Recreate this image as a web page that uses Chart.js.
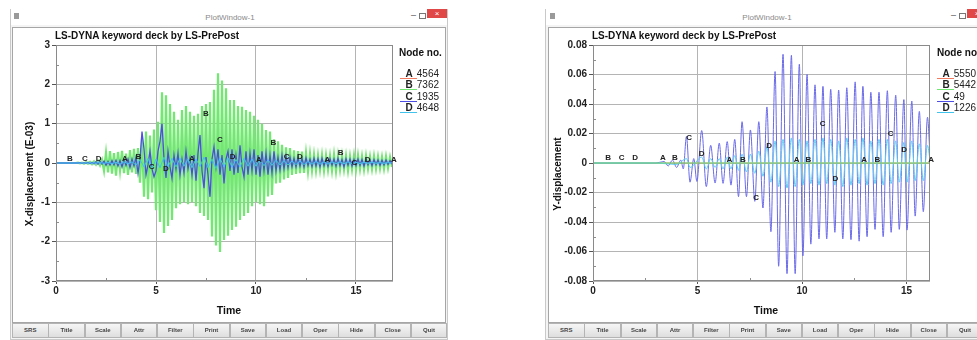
<!DOCTYPE html>
<html><head><meta charset="utf-8">
<script src="https://cdn.jsdelivr.net/npm/chart.js@4.4.1/dist/chart.umd.min.js"></script>
<style>
html,body{margin:0;padding:0;}
body{width:977px;height:340px;overflow:hidden;background:#fff;position:relative;font-family:"Liberation Sans",Arial,sans-serif;}
.win{position:absolute;top:9px;height:331px;border:1px solid #c9c9c9;background:#f4f4f4;box-sizing:border-box;}
.tbar{position:absolute;top:9px;height:16px;background:#fff;}
.wtitle{position:absolute;top:13px;font-size:8px;color:#8a8a8a;text-align:center;width:200px;line-height:9px;}
.icon{position:absolute;top:13px;width:5px;height:6px;background:#9a9a9a;}
.minb{position:absolute;top:11px;font-size:9px;color:#555;line-height:9px;}
.maxb{position:absolute;top:13px;width:5px;height:4px;border:1px solid #777;}
.close{position:absolute;top:9px;width:20px;height:9px;background:#e04848;color:#fff;font-size:8px;line-height:9px;text-align:center;}
.panel{position:absolute;top:27px;width:434px;height:296px;background:#fff;border:1px solid #a6a6a6;box-sizing:border-box;}
canvas{position:absolute;top:27px;}
.ptitle{position:absolute;top:30px;font-size:10px;font-weight:bold;color:#111;line-height:12px;white-space:nowrap;}
.ytitle{position:absolute;width:200px;height:12px;line-height:12px;text-align:center;font-size:10px;font-weight:bold;color:#111;transform:rotate(-90deg);white-space:nowrap;}
.xtitle{position:absolute;top:304px;width:60px;text-align:center;font-size:10.5px;font-weight:bold;color:#111;line-height:12px;}
.node{position:absolute;top:47px;font-size:10px;font-weight:bold;color:#111;line-height:12px;white-space:nowrap;}
.lg{position:absolute;font-size:10px;line-height:11px;color:#222;white-space:nowrap;}
.lg b{display:inline-block;width:10px;text-align:center;}
.lline{position:absolute;height:1px;}
.btn{position:absolute;top:323px;height:15px;box-sizing:border-box;border:1px solid #b4b4b4;background:linear-gradient(#f6f6f6,#dedede);font-size:6px;font-weight:bold;color:#444;text-align:center;line-height:13px;}
</style></head>
<body>
<!-- left window -->
<div class="win" style="left:10px;width:438px;"></div>
<div class="tbar" style="left:11px;width:436px;"></div>
<div class="icon" style="left:14px;"></div>
<div class="wtitle" style="left:130px;">PlotWindow-1</div>
<div class="minb" style="left:411px;">–</div>
<div class="maxb" style="left:419px;"></div>
<div class="close" style="left:427px;">×</div>
<div class="panel" style="left:12px;"></div>
<canvas id="c1" width="434" height="295" style="left:12px;"></canvas>
<div class="ptitle" style="left:55px;">LS-DYNA keyword deck by LS-PrePost</div>
<div class="ytitle" style="left:-70px;top:168px;">X-displacement (E-03)</div>
<div class="xtitle" style="left:199px;">Time</div>
<div class="node" style="left:399px;">Node no.</div>
<div id="lg1"></div>
<div id="bt1"></div>

<!-- right window -->
<div class="win" style="left:545px;width:445px;"></div>
<div class="tbar" style="left:546px;width:443px;"></div>
<div class="icon" style="left:550px;"></div>
<div class="wtitle" style="left:667px;">PlotWindow-1</div>
<div class="minb" style="left:951px;">–</div>
<div class="maxb" style="left:959px;"></div>
<div class="close" style="left:967px;">×</div>
<div class="panel" style="left:548px;"></div>
<canvas id="c2" width="434" height="295" style="left:548px;"></canvas>
<div class="ptitle" style="left:592px;">LS-DYNA keyword deck by LS-PrePost</div>
<div class="ytitle" style="left:458px;top:168px;">Y-displacement</div>
<div class="xtitle" style="left:736px;">Time</div>
<div class="node" style="left:937px;">Node no.</div>
<div id="lg2"></div>
<div id="bt2"></div>

<script>
// ---------------- DATA ----------------
const seriesLetters = ['A','B','C','D'];
const seriesColors = ['#f27a5e','#72e872','#4e4ee4','#40c4ee'];
const leftNodes = ['4564','7362','1935','4648'];
const rightNodes = ['5550','5442','49','1226'];
const buttonNames = ['SRS','Title','Scale','Attr','Filter','Print','Save','Load','Oper','Hide','Close','Quit'];

const xTicks = [0,5,10,15];
const xMinor = [2.5,7.5,12.5];
const leftYTicks = [-3,-2,-1,0,1,2,3];
const leftYMinor = [-2.5,-1.5,-0.5,0.5,1.5,2.5];
const rightYTicks = [-0.08,-0.06,-0.04,-0.02,0,0.02,0.04,0.06,0.08];
const rightYLabels = ['-0.08','-0.06','-0.04','-0.02','0','0.02','0.04','0.06','0.08'];
const rightYMinor = [-0.07,-0.05,-0.03,-0.01,0.01,0.03,0.05,0.07];

// Left plot: X-displacement (E-03), sampled every 0.1 s
const leftStep = 0.1;
const leftB = [
 0,0,0,0,0,0,0,0,0,0,
 0,0.01,-0.01,0.01,-0.02,0.02,-0.02,0.03,-0.03,0.04,
 -0.04,0.05,-0.06,0.08,-0.2,0.26,-0.24,0.3,-0.27,0.25,
 -0.32,0.28,-0.2,0.31,-0.26,0.24,-0.3,0.33,-0.24,0.36,
 -0.28,0.38,-0.5,0.62,-0.86,0.8,-0.92,0.7,-0.75,0.85,
 -1.2,1.05,-1.5,1.8,-1.78,1.72,-1.6,1.5,-1.45,1.3,
 -1.15,1.1,-1.05,1.35,-1.0,1.45,-1.05,1.3,-1.0,1.2,
 -1.1,1.25,-1.27,1.45,-1.35,1.5,-1.45,1.55,-1.87,1.86,
 -2.1,2.28,-2.26,2.1,-1.96,1.9,-1.85,1.6,-1.7,1.6,
 -1.62,1.45,-1.45,1.43,-1.35,1.35,-1.27,1.3,-1.1,1.2,
 -1.0,1.1,-1.05,1.0,-1.1,0.84,-0.85,0.8,-0.81,0.6,
 -0.52,0.55,-0.5,0.46,-0.42,0.4,-0.38,0.38,-0.3,0.32,
 -0.28,0.3,-0.26,0.29,-0.25,0.26,-0.22,0.24,-0.2,0.22,
 -0.2,0.2,-0.18,0.21,-0.2,0.2,-0.18,0.19,-0.2,0.22,
 -0.22,0.2,-0.18,0.2,-0.17,0.19,-0.2,0.18,-0.17,0.2,
 -0.18,0.2,-0.16,0.18,-0.17,0.19,-0.15,0.17,-0.16,0.18,
 -0.15,0.17,-0.14,0.16,-0.15,0.17,-0.13,0.15,-0.1
];
const leftC = [
 0,0,0,0,0,0,0,0,0,0,
 0,0,0.01,-0.01,0.01,-0.01,0.02,-0.02,0.02,-0.02,
 0.03,-0.03,0.04,-0.03,0.05,-0.06,0.04,-0.05,0.06,-0.05,
 0.07,-0.08,0.06,-0.1,0.08,-0.06,0.1,-0.12,0.1,-0.08,
 0.15,-0.26,0.1,0.8,0.35,-0.3,-0.05,0.3,-0.15,-0.35,
 -0.2,0.3,0.55,1.0,0.1,-0.38,0.3,-0.1,-0.39,0.2,
 -0.15,0.25,-0.3,0.1,-0.25,0.3,-0.15,0.12,-0.3,0.2,
 -0.45,0.25,0.71,-0.2,-0.64,0.15,-0.3,-0.86,0.1,0.41,
 -0.1,0.35,-0.3,0.2,-0.52,0.1,0.3,-0.2,0.35,-0.3,
 0.2,-0.25,0.45,-0.1,-0.35,0.3,-0.3,0.25,-0.2,0.35,
 -0.3,0.2,-0.35,0.3,-0.2,0.25,-0.3,0.2,-0.25,0.3,
 -0.2,0.15,-0.18,0.2,-0.15,0.18,-0.12,0.15,-0.1,0.12,
 -0.1,0.14,-0.08,0.12,-0.1,0.13,-0.07,0.1,-0.09,0.12,
 -0.08,0.11,-0.1,0.12,-0.07,0.1,-0.09,0.11,-0.06,0.1,
 -0.08,0.12,-0.07,0.09,-0.1,0.11,-0.06,0.1,-0.08,0.09,
 -0.07,0.1,-0.06,0.09,-0.08,0.1,-0.05,0.08,-0.07,0.09,
 -0.05,0.08,-0.06,0.07,-0.05,0.08,-0.04,0.06,-0.03
];
const leftDStep = 0.2;
const leftD = [
 0,0,0,0,0,0,0,0,0,0,
 0,0.01,-0.01,0.02,-0.02,0.02,-0.03,0.03,-0.02,0.03,
 -0.05,0.08,-0.1,0.12,-0.15,0.1,-0.12,0.15,-0.1,0.12,
 -0.1,0.12,-0.08,0.1,-0.12,0.1,-0.09,0.15,-0.12,0.1,
 -0.14,0.12,-0.1,0.13,-0.11,0.09,-0.1,0.12,-0.08,0.1,
 -0.08,0.09,-0.07,0.08,-0.06,0.07,-0.05,0.06,-0.05,0.05,
 -0.04,0.05,-0.04,0.04,-0.03,0.04,-0.03,0.03,-0.03,0.03,
 -0.02,0.03,-0.02,0.03,-0.02,0.02,-0.02,0.02,-0.01,0.02,
 -0.01,0.01,-0.01,0.01,0
];
const leftAT = [0,4,6,8,10,12,16.85];
const leftAV = [0,0.01,-0.01,0.01,-0.01,0,0];
const leftXMax = 16.85;
const leftLabT = [0.7,1.45,2.13,3.45,4.12,4.78,5.5,6.8,7.5,8.2,8.83,10.15,10.87,11.53,12.2,13.57,14.23,14.92,15.58,16.9];
const leftLabV = [0.11,0.11,0.1,0.1,0.17,-0.09,-0.14,0.1,1.24,0.6,0.16,0.08,0.52,0.16,0.16,0.09,0.25,0.01,0.08,0.08];
const leftLabS = ['B','C','D','A','B','C','D','A','B','C','D','A','B','C','D','A','B','C','D','A'];

// Right plot: Y-displacement
const rightCT = [0,3.0,3.4,3.6,3.8,4.0,4.2,4.32,4.47,4.64,4.82,4.97,5.2,5.42,5.63,5.84,6.04,6.22,6.42,6.6,6.78,6.96,7.13,7.34,7.53,7.74,7.93,8.13,8.32,8.51,8.71,8.88,9.09,9.28,9.49,9.67,9.87,10.04,10.24,10.42,10.62,10.81,11.0,11.18,11.37,11.57,11.75,11.95,12.14,12.34,12.54,12.73,12.91,13.11,13.29,13.49,13.68,13.88,14.08,14.26,14.48,14.65,14.87,15.02,15.25,15.41,15.61,15.8,16.0,16.12];
const rightCV = [0,0,0.001,-0.002,0.002,-0.003,0.002,-0.004,0.018,-0.013,0.003,-0.0125,0.022,-0.016,0.012,-0.0136,0.0135,-0.0138,0.0145,-0.015,0.016,-0.0228,0.028,-0.0228,0.0224,-0.026,0.028,-0.0305,0.038,-0.0466,0.062,-0.07,0.0737,-0.075,0.073,-0.075,0.067,-0.063,0.06,-0.055,0.053,-0.0515,0.052,-0.0515,0.05,-0.047,0.0495,-0.0515,0.051,-0.052,0.055,-0.053,0.052,-0.05,0.048,-0.045,0.048,-0.05,0.049,-0.047,0.046,-0.045,0.043,-0.0455,0.042,-0.036,0.035,-0.033,0.031,0.005];
const rightDT = [0,3.0,4.0,4.47,4.64,5.2,5.42,5.63,5.84,6.04,6.22,6.42,6.6,6.78,6.96,7.13,7.34,7.53,7.74,7.93,8.13,8.32,8.51,8.71,8.88,9.09,9.28,9.49,9.67,9.87,10.04,10.24,10.42,10.62,10.81,11.0,11.18,11.37,11.57,11.75,11.95,12.14,12.34,12.54,12.73,12.91,13.11,13.29,13.49,13.68,13.88,14.08,14.26,14.48,14.65,14.87,15.02,15.25,15.41,15.61,15.8,16.0,16.12];
const rightDV = [0,0,-0.001,0.003,-0.003,0.004,-0.004,0.003,-0.003,0.003,-0.004,0.004,-0.004,0.005,-0.005,0.006,-0.006,0.006,-0.007,0.008,-0.009,0.011,-0.013,0.015,-0.016,0.016,-0.017,0.017,-0.016,0.016,-0.015,0.015,-0.014,0.016,-0.015,0.017,-0.014,0.016,-0.015,0.015,-0.016,0.017,-0.015,0.016,-0.014,0.017,-0.015,0.015,-0.014,0.016,-0.015,0.016,-0.014,0.015,-0.013,0.014,-0.013,0.015,-0.012,0.013,-0.012,0.012,0.002];
const rightBT = [0,16.12];
const rightBV = [0,0];
const rightAT = [0,16.12];
const rightAV = [0,0];
const rightXMax = 16.12;
const rightLabT = [0.73,1.37,2.01,3.34,3.92,4.6,5.2,6.52,7.17,7.8,8.43,9.74,10.3,10.98,11.6,12.97,13.6,14.24,14.88,16.17];
const rightLabV = [0.0032,0.0032,0.0032,0.0032,0.0032,0.0174,0.0061,0.0025,0.0025,-0.0235,0.0117,0.0025,0.0025,0.0264,-0.0108,0.0025,0.0025,0.0201,0.0088,0.0025];
const rightLabS = ['B','C','D','A','B','C','D','A','B','C','D','A','B','C','D','A','B','C','D','A'];

// ---------------- BUILD ----------------
const stepPts = (arr, step) => arr.map((v,i)=>({x: +(i*step).toFixed(3), y: v}));
const pairPts = (ts, vs) => ts.map((t,i)=>({x: t, y: vs[i]}));

Chart.defaults.font.family = '"Liberation Sans", Arial, sans-serif';

const framePlugin = {
  id: 'frameLabels',
  afterDatasetsDraw(chart, args, o) {
    const {ctx, chartArea: a, scales} = chart;
    ctx.save();
    ctx.strokeStyle = '#8e8e8e'; ctx.lineWidth = 1;
    ctx.beginPath();
    o.minorX.forEach(v => { const x = Math.round(scales.x.getPixelForValue(v)) + 0.5; ctx.moveTo(x, a.bottom); ctx.lineTo(x, a.bottom - 3); });
    o.minorY.forEach(v => { const y = Math.round(scales.y.getPixelForValue(v)) + 0.5; ctx.moveTo(a.left, y); ctx.lineTo(a.left + 3, y); });
    ctx.stroke();
    ctx.strokeStyle = '#8a8a8a';
    ctx.strokeRect(Math.round(a.left) + 0.5, Math.round(a.top) + 0.5, Math.round(a.right - a.left) - 1, Math.round(a.bottom - a.top) - 1);
    ctx.font = 'bold 8px "Liberation Sans", Arial, sans-serif';
    ctx.fillStyle = '#222'; ctx.textAlign = 'center'; ctx.textBaseline = 'middle';
    o.labT.forEach((t, i) => ctx.fillText(o.labS[i], scales.x.getPixelForValue(t), scales.y.getPixelForValue(o.labV[i])));
    ctx.restore();
  }
};

function makeChart(id, datasets, xMax, yTicks, yLabels, yMinor, labT, labV, labS, yAxisW) {
  return new Chart(document.getElementById(id), {
    type: 'line',
    data: { datasets },
    plugins: [framePlugin],
    options: {
      responsive: false, animation: false, devicePixelRatio: 1,
      layout: { padding: { left: 0, top: 18, right: 434 - 337 - yAxisW, bottom: 0 } },
      elements: { point: { radius: 0 }, line: { borderWidth: 1 } },
      plugins: { legend: { display: false }, tooltip: { enabled: false }, title: { display: false },
        frameLabels: { minorX: xMinor, minorY: yMinor, labT, labV, labS } },
      scales: {
        x: { type: 'linear', min: 0, max: xMax,
          afterBuildTicks: s => { s.ticks = xTicks.map(v => ({ value: v })); },
          afterFit: s => { s.height = 41; },
          grid: { color: '#b4b4b4', tickColor: '#555', tickLength: 3 },
          border: { display: false },
          ticks: { color: '#222', font: { size: 10, weight: 'bold' }, padding: 1, maxRotation: 0,
            callback: v => String(v) } },
        y: { type: 'linear', min: yTicks[0], max: yTicks[yTicks.length - 1],
          afterBuildTicks: s => { s.ticks = yTicks.map(v => ({ value: v })); },
          afterFit: s => { s.width = yAxisW; },
          grid: { color: '#b4b4b4', tickColor: '#555', tickLength: 4 },
          border: { display: false },
          ticks: { color: '#222', font: { size: 10, weight: 'bold' }, padding: 2,
            callback: (v, i) => yLabels[i] } }
      }
    }
  });
}

const ds = (letterIdx, pts, order, extra) => Object.assign({
  label: seriesLetters[letterIdx], data: pts, borderColor: seriesColors[letterIdx],
  borderWidth: 1, pointRadius: 0, order, tension: 0, fill: false }, extra || {});

makeChart('c1', [
  ds(0, pairPts(leftAT, leftAV), 4),
  ds(1, stepPts(leftB, leftStep), 3, { borderWidth: 2.2 }),
  ds(2, stepPts(leftC, leftStep), 2, { borderWidth: 1.3 }),
  ds(3, stepPts(leftD, leftDStep), 1)
], leftXMax, leftYTicks, leftYTicks.map(String), leftYMinor, leftLabT, leftLabV, leftLabS, 44);

makeChart('c2', [
  ds(0, pairPts(rightAT, rightAV), 4),
  ds(1, pairPts(rightBT, rightBV), 1),
  ds(2, pairPts(rightCT, rightCV), 3, { cubicInterpolationMode: 'monotone', borderColor: '#6a6ae8' }),
  ds(3, pairPts(rightDT, rightDV), 2, { cubicInterpolationMode: 'monotone', borderColor: '#5ccaf0' })
], rightXMax, rightYTicks, rightYLabels, rightYMinor, rightLabT, rightLabV, rightLabS, 45);

// legends
function legend(el, x, nodes) {
  let h = '';
  nodes.forEach((n, i) => {
    const y = 68 + i * 11.3;
    h += `<div class="lg" style="left:${x + 4}px;top:${y}px;"><b>${seriesLetters[i]}</b> ${n}</div>`;
    h += `<div class="lline" style="left:${x}px;top:${y + 10}px;width:17px;background:${seriesColors[i]};"></div>`;
  });
  document.getElementById(el).innerHTML = h;
}
legend('lg1', 400, leftNodes);
legend('lg2', 937, rightNodes);

// button bars
function buttons(el, x0) {
  let h = '';
  buttonNames.forEach((b, i) => {
    h += `<div class="btn" style="left:${(x0 + i * 36.25).toFixed(2)}px;width:36.5px;">${b}</div>`;
  });
  document.getElementById(el).innerHTML = h;
}
buttons('bt1', 12);
buttons('bt2', 548);
</script>
</body></html>
